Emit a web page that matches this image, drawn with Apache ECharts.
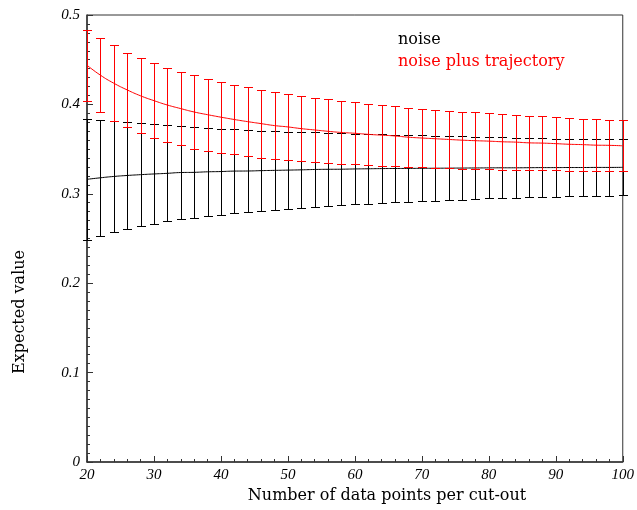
<!DOCTYPE html>
<html>
<head>
<meta charset="utf-8">
<script src="https://cdn.jsdelivr.net/npm/echarts@6/dist/echarts.min.js"></script>
<style>html,body{margin:0;padding:0;background:#fff}#c{width:637px;height:510px}</style>
</head>
<body>
<div id="c"></div>
<script>
// x positions (number of data points per cut-out)
const xValues = [20,22,24,26,28,30,32,34,36,38,40,42,44,46,48,50,52,54,56,58,60,62,64,66,68,70,72,74,76,78,80,82,84,86,88,90,92,94,96,98,100];

// "noise" series (black)
const noiseMean = [0.3162,0.3179,0.3194,0.3205,0.3214,0.3222,0.3229,0.3238,0.3240,0.3246,0.3249,0.3254,0.3255,0.3259,0.3262,0.3265,0.3268,0.3272,0.3274,0.3275,0.3278,0.3280,0.3282,0.3283,0.3284,0.3285,0.3286,0.3287,0.3288,0.3289,0.3290,0.3291,0.3291,0.3292,0.3293,0.3293,0.3294,0.3294,0.3295,0.3295,0.3296];
const noiseLow  = [0.2487,0.2531,0.2573,0.2610,0.2640,0.2666,0.2692,0.2718,0.2733,0.2752,0.2768,0.2782,0.2796,0.2811,0.2822,0.2834,0.2845,0.2856,0.2864,0.2871,0.2884,0.2891,0.2899,0.2905,0.2910,0.2916,0.2922,0.2927,0.2933,0.2939,0.2948,0.2950,0.2954,0.2959,0.2964,0.2968,0.2970,0.2974,0.2976,0.2980,0.2982];
const noiseHigh = [0.3837,0.3826,0.3814,0.3800,0.3788,0.3777,0.3766,0.3758,0.3747,0.3740,0.3730,0.3725,0.3714,0.3706,0.3702,0.3695,0.3691,0.3688,0.3684,0.3678,0.3672,0.3669,0.3665,0.3661,0.3658,0.3654,0.3650,0.3647,0.3643,0.3639,0.3632,0.3632,0.3628,0.3625,0.3622,0.3618,0.3618,0.3614,0.3614,0.3610,0.3610];

// "noise plus trajectory" series (red)
const trajMean = [0.4438,0.4327,0.4237,0.4162,0.4096,0.4042,0.3993,0.3953,0.3915,0.3885,0.3857,0.3831,0.3807,0.3785,0.3763,0.3748,0.3729,0.3714,0.3699,0.3686,0.3677,0.3665,0.3656,0.3647,0.3633,0.3624,0.3616,0.3608,0.3600,0.3594,0.3589,0.3582,0.3578,0.3570,0.3567,0.3561,0.3554,0.3550,0.3544,0.3542,0.3537];
const trajLow  = [0.4040,0.3915,0.3814,0.3744,0.3676,0.3624,0.3576,0.3546,0.3505,0.3482,0.3460,0.3442,0.3423,0.3404,0.3386,0.3375,0.3363,0.3352,0.3341,0.3333,0.3330,0.3322,0.3315,0.3311,0.3303,0.3296,0.3292,0.3285,0.3281,0.3277,0.3274,0.3270,0.3270,0.3266,0.3266,0.3263,0.3259,0.3259,0.3255,0.3255,0.3252];
const trajHigh = [0.4836,0.4739,0.4660,0.4580,0.4515,0.4460,0.4410,0.4360,0.4325,0.4288,0.4254,0.4220,0.4190,0.4165,0.4139,0.4120,0.4094,0.4075,0.4057,0.4038,0.4023,0.4008,0.3997,0.3982,0.3963,0.3952,0.3940,0.3930,0.3918,0.3910,0.3904,0.3893,0.3885,0.3874,0.3867,0.3859,0.3848,0.3840,0.3833,0.3829,0.3822];

const yTicks = [0, 0.1, 0.2, 0.3, 0.4, 0.5];
const xTicks = [20, 30, 40, 50, 60, 70, 80, 90, 100];

const seriesNames = ['noise', 'noise plus trajectory'];
const colors = ['#000000', '#ff0000'];

function zip2(a, b) { return a.map((v, i) => [v, b[i]]); }
function zip3(a, b, c) { return a.map((v, i) => [v, b[i], c[i]]); }

function errRender(color) {
  return function (params, api) {
    const x = api.value(0);
    const lo = api.coord([x, api.value(1)]);
    const hi = api.coord([x, api.value(2)]);
    const w = 4.5;
    const style = { stroke: color, lineWidth: 1 };
    const px = Math.round(lo[0]) + 0.5;
    const yl = Math.round(lo[1]) + 0.5, yh = Math.round(hi[1]) + 0.5;
    return {
      type: 'group',
      children: [
        { type: 'line', shape: { x1: px, y1: yl, x2: px, y2: yh }, style },
        { type: 'line', shape: { x1: px - w, y1: yl, x2: px + w, y2: yl }, style },
        { type: 'line', shape: { x1: px - w, y1: yh, x2: px + w, y2: yh }, style }
      ]
    };
  };
}

const labelFont = { fontFamily: 'Liberation Serif', fontStyle: 'italic', fontSize: 15, color: '#000' };
const nameFontStr = '16px "DejaVu Serif", serif';

const chart = echarts.init(document.getElementById('c'), null, { renderer: 'canvas' });
chart.setOption({
  animation: false,
  backgroundColor: '#fff',
  grid: { left: 87, right: 11, top: 15, bottom: 48, show: true, borderColor: '#333', borderWidth: 1 },
  xAxis: {
    type: 'value', min: 20, max: 100, interval: 10,
    axisLine: { show: true, onZero: false, lineStyle: { color: '#333', width: 1.5 } },
    axisTick: { show: true, inside: true, length: 6, lineStyle: { color: '#333' } },
    minorTick: { show: true, splitNumber: 5, length: 3, lineStyle: { color: '#333' } },
    splitLine: { show: false },
    axisLabel: Object.assign({ margin: 6, formatter: v => xTicks.includes(v) ? String(v) : '' }, labelFont)
  },
  yAxis: {
    type: 'value', min: 0, max: 0.5, interval: 0.1,
    axisLine: { show: true, onZero: false, lineStyle: { color: '#333', width: 1.5 } },
    axisTick: { show: true, inside: true, length: 6, lineStyle: { color: '#333' } },
    minorTick: { show: true, splitNumber: 10, length: 3, lineStyle: { color: '#333' } },
    splitLine: { show: false },
    axisLabel: Object.assign({ margin: 7, formatter: v => { const t = yTicks.find(k => Math.abs(k - v) < 1e-9); return t === undefined ? '' : String(t); } }, labelFont)
  },
  graphic: [
    { type: 'text', left: 398, top: 32, style: { text: seriesNames[0], font: nameFontStr, fill: colors[0] } },
    { type: 'text', left: 398, top: 54, style: { text: seriesNames[1], font: nameFontStr, fill: colors[1] } },
    { type: 'text', x: 387, y: 496, style: { text: 'Number of data points per cut-out', align: 'center', verticalAlign: 'middle', font: nameFontStr, fill: '#000' } },
    { type: 'text', x: 20, y: 312, rotation: Math.PI / 2, style: { text: 'Expected value', align: 'center', verticalAlign: 'middle', font: nameFontStr, fill: '#000' } }
  ],
  series: [
    { name: seriesNames[0] + ' err', type: 'custom', renderItem: errRender(colors[0]), data: zip3(xValues, noiseLow, noiseHigh), encode: { x: 0, y: [1, 2] }, z: 2 },
    { name: seriesNames[0], type: 'line', data: zip2(xValues, noiseMean), showSymbol: false, smooth: true, lineStyle: { color: colors[0], width: 1 }, z: 3 },
    { name: seriesNames[1] + ' err', type: 'custom', renderItem: errRender(colors[1]), data: zip3(xValues, trajLow, trajHigh), encode: { x: 0, y: [1, 2] }, z: 4 },
    { name: seriesNames[1], type: 'line', data: zip2(xValues, trajMean), showSymbol: false, smooth: true, lineStyle: { color: colors[1], width: 1 }, z: 5 }
  ]
});
</script>
</body>
</html>
